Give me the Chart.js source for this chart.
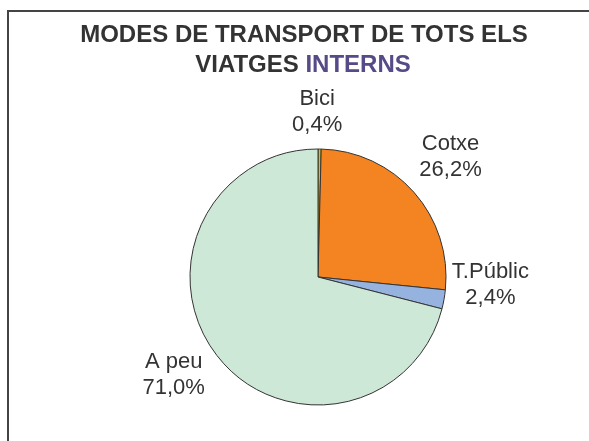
<!DOCTYPE html>
<html lang="ca">
<head>
    <meta charset="UTF-8">
    <title>Modes de transport</title>
    <!-- Chart.js library -->
    <script src="https://cdn.jsdelivr.net/npm/chart.js@4"></script>
    <style>
        body { margin: 0; background: #fff; }
        #chartBox { position: relative; width: 589px; height: 441px; }
    </style>
</head>
<body>
    <div id="chartBox">
        <canvas id="modesChart" width="589" height="441"></canvas>
    </div>

    <script>
        // data
        const modes = ['Bici', 'Cotxe', 'T.Públic', 'A peu'];
        const shares = [0.4, 26.2, 2.4, 71.0];
        const sliceColors = ['#d2c01c', '#f38421', '#95b3de', '#cde8d6'];

        // nudges of each label away from its slice's outside point
        const labelNudge = [[-3, 5], [5, -8], [5, -22], [-10, -6]];

        // frame + two-colour title
        const framePlugin = {
            id: 'frame',
            beforeDraw(chart) {
                const ctx = chart.ctx;
                ctx.save();
                ctx.strokeStyle = '#444';
                ctx.lineWidth = 2;
                ctx.beginPath();
                ctx.moveTo(8, 441);
                ctx.lineTo(8, 11);
                ctx.lineTo(589, 11);
                ctx.stroke();

                ctx.font = 'bold 24px "Liberation Sans", Arial, sans-serif';
                ctx.textBaseline = 'middle';
                ctx.textAlign = 'center';
                ctx.fillStyle = '#333';
                ctx.fillText('MODES DE TRANSPORT DE TOTS ELS', 304, 35);

                const a = 'VIATGES ', b = 'INTERNS';
                const wa = ctx.measureText(a).width, wb = ctx.measureText(b).width;
                let x = 303 - (wa + wb) / 2;
                ctx.textAlign = 'left';
                ctx.fillText(a, x, 65);
                ctx.fillStyle = '#564a87';
                ctx.fillText(b, x + wa, 65);
                ctx.restore();
            }
        };

        // category + percent labels outside each slice
        const labelPlugin = {
            id: 'sliceLabels',
            afterDatasetsDraw(chart) {
                const ctx = chart.ctx;
                const meta = chart.getDatasetMeta(0);
                ctx.save();
                ctx.font = '22px "Liberation Sans", Arial, sans-serif';
                ctx.fillStyle = '#333';
                ctx.textAlign = 'center';
                ctx.textBaseline = 'middle';
                meta.data.forEach((arc, i) => {
                    const mid = (arc.startAngle + arc.endAngle) / 2;
                    const d = arc.outerRadius + 42;
                    const x = arc.x + Math.cos(mid) * d + labelNudge[i][0];
                    const y = arc.y + Math.sin(mid) * d + labelNudge[i][1];
                    ctx.fillText(modes[i], x, y - 13);
                    ctx.fillText(shares[i].toFixed(1).replace('.', ',') + '%', x, y + 13);
                });
                ctx.restore();
            }
        };

        const ctx = document.getElementById('modesChart').getContext('2d');
        const modesChart = new Chart(ctx, {
            type: 'pie',
            data: {
                labels: modes,
                datasets: [{
                    data: shares,
                    backgroundColor: sliceColors,
                    borderColor: '#333',
                    borderWidth: 1
                }]
            },
            options: {
                responsive: false,
                animation: false,
                layout: {
                    padding: { left: 189.5, top: 148.5, right: 142.5, bottom: 35.5 }
                },
                plugins: {
                    legend: { display: false },
                    tooltip: { enabled: false },
                    title: { display: false }
                }
            },
            plugins: [framePlugin, labelPlugin]
        });
    </script>
</body>
</html>
